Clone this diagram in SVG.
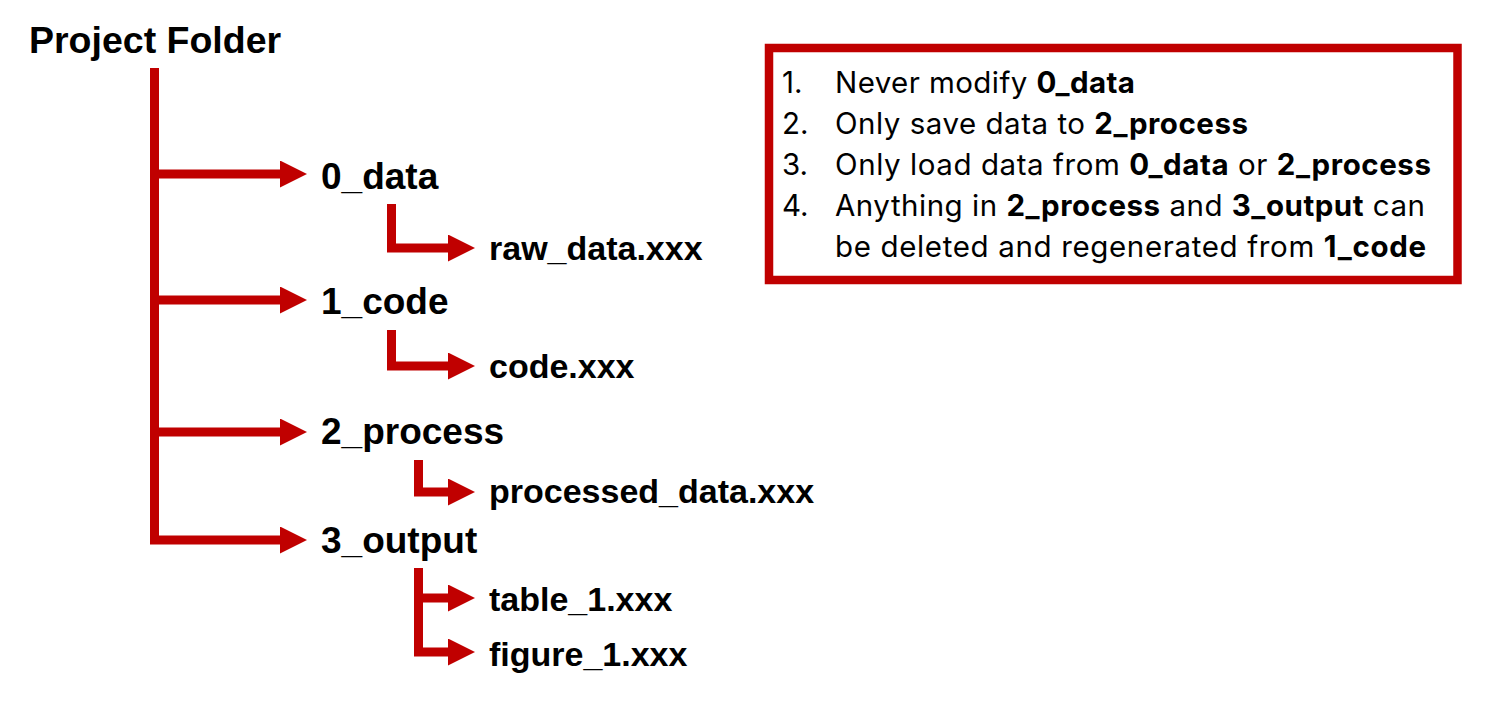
<svg xmlns="http://www.w3.org/2000/svg" width="1502" height="705" viewBox="0 0 1502 705">
<style>
.lbl{font-family:"Liberation Sans",Arial,sans-serif;font-weight:bold;fill:#000}
.main{font-size:37px}
.child{font-size:34px}
.title{font-size:37.5px}
.con{fill:none;stroke:#C00000;stroke-width:9;stroke-linejoin:miter}
.arr{marker-end:url(#ah)}
.rule{font-family:Inter,Roboto,"Noto Sans",sans-serif;font-size:29.5px;fill:#000}
.rule tspan.b{font-weight:bold}
</style>
<defs>
<marker id="ah" markerUnits="userSpaceOnUse" markerWidth="27" markerHeight="27" viewBox="0 0 27 27" refX="0" refY="13.5" orient="auto">
<path d="M0,0 L27,13.5 L0,27 Z" fill="#C00000"/>
</marker>
</defs>
<g id="connectors">
<path class="con arr" d="M154.5,68 V540 H280"/>
<path class="con arr" d="M150,174 H280"/>
<path class="con arr" d="M150,300 H280"/>
<path class="con arr" d="M150,432 H280"/>
<path class="con arr" d="M391.5,204 V248 H448"/>
<path class="con arr" d="M391.5,330 V366 H448"/>
<path class="con arr" d="M418.5,460 V492 H448"/>
<path class="con arr" d="M418.5,568 V652 H448"/>
<path class="con arr" d="M414,598 H448"/>
</g>
<g id="project_folder"><text class="lbl title" x="29" y="53">Project Folder</text></g>
<g id="n0_data"><text class="lbl main" x="321" y="189">0_data</text></g>
<g id="raw_data"><text class="lbl child" x="489" y="260">raw_data.xxx</text></g>
<g id="n1_code"><text class="lbl main" x="321" y="314">1_code</text></g>
<g id="code"><text class="lbl child" x="489" y="378">code.xxx</text></g>
<g id="n2_process"><text class="lbl main" x="321" y="444">2_process</text></g>
<g id="processed_data"><text class="lbl child" x="489" y="503">processed_data.xxx</text></g>
<g id="n3_output"><text class="lbl main" x="321" y="553">3_output</text></g>
<g id="table_1"><text class="lbl child" x="489" y="611">table_1.xxx</text></g>
<g id="figure_1"><text class="lbl child" x="489" y="666">figure_1.xxx</text></g>
<g id="rules">
<rect x="769" y="48" width="688.5" height="232" fill="#fff" stroke="#C00000" stroke-width="8.5"/>
<text class="rule" x="782" y="93">1.</text>
<text class="rule" x="835" y="93" textLength="300">Never modify <tspan class="b">0_data</tspan></text>
<text class="rule" x="782" y="133.5">2.</text>
<text class="rule" x="835" y="133.5" textLength="413">Only save data to <tspan class="b">2_process</tspan></text>
<text class="rule" x="782" y="174.5">3.</text>
<text class="rule" x="835" y="174.5" textLength="596">Only load data from <tspan class="b">0_data</tspan> or <tspan class="b">2_process</tspan></text>
<text class="rule" x="782" y="215.5">4.</text>
<text class="rule" x="835" y="215.5" textLength="590">Anything in <tspan class="b">2_process</tspan> and <tspan class="b">3_output</tspan> can</text>
<text class="rule" x="835" y="256.5" textLength="591">be deleted and regenerated from <tspan class="b">1_code</tspan></text>
</g>
</svg>
